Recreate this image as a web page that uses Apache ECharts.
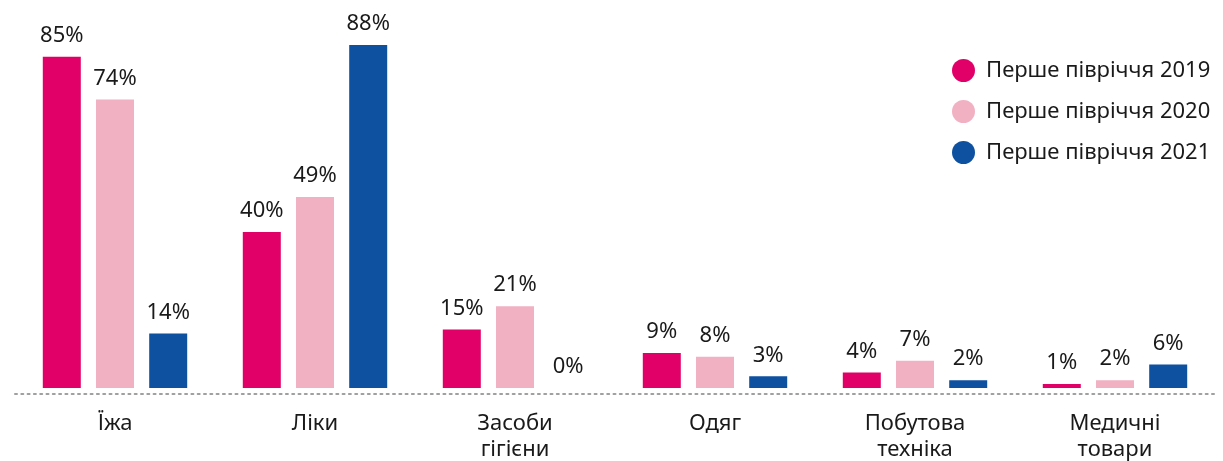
<!DOCTYPE html>
<html>
<head>
<meta charset="utf-8">
<script src="https://cdn.jsdelivr.net/npm/echarts@6/dist/echarts.min.js"></script>
<style>
  html, body { margin: 0; padding: 0; background: #fff; }
  #chart { width: 1223px; height: 461px; }
</style>
</head>
<body>
<div id="chart"></div>
<script>
// категорії та значення (%)
const categories = ["Їжа", "Ліки", "Засоби\nгігієни", "Одяг", "Побутова\nтехніка", "Медичні\nтовари"]
const seriesNames = ["Перше півріччя 2019", "Перше півріччя 2020", "Перше півріччя 2021"]
const values2019 = [85, 40, 15, 9, 4, 1]
const values2020 = [74, 49, 21, 8, 7, 2]
const values2021 = [14, 88, 0, 3, 2, 6]
const colors = ["#e10068", "#f2b0c3", "#0d51a0"]

const fontFamily = "'Noto Sans', 'Open Sans', sans-serif"

function makeSeries(name, data, color) {
    return {
        name,
        type: "bar",
        data,
        barWidth: 38,
        barGap: "40%",
        itemStyle: { color },
        label: {
            show: true,
            position: "top",
            distance: 10,
            formatter: "{c}%",
            fontSize: 22,
            fontFamily,
            color: "#1a1a1a",
        },
    }
}

const chart = echarts.init(document.getElementById("chart"))
chart.setOption({
    animation: false,
    grid: {
        left: 15,
        right: 8,
        top: 45,
        bottom: 73,
        containLabel: false,
        outerBoundsMode: "none",
    },
    legend: {
        orient: "vertical",
        left: 947,
        top: 54,
        icon: "circle",
        itemWidth: 23,
        itemHeight: 23,
        itemGap: 18,
        data: seriesNames,
        textStyle: {
            fontSize: 22,
            fontFamily,
            color: "#1a1a1a",
            padding: [0, 0, 0, 6],
        },
    },
    xAxis: {
        type: "category",
        data: categories,
        offset: 6,
        axisTick: { show: false },
        axisLine: {
            show: true,
            onZero: false,
            lineStyle: { color: "#a0a0a0", type: [2, 4.3], width: 2 },
        },
        axisLabel: {
            margin: 17,
            fontSize: 22,
            lineHeight: 26,
            fontFamily,
            color: "#1a1a1a",
        },
    },
    yAxis: {
        type: "value",
        min: 0,
        max: 88,
        show: false,
        splitLine: { show: false },
    },
    series: [
        makeSeries(seriesNames[0], values2019, colors[0]),
        makeSeries(seriesNames[1], values2020, colors[1]),
        makeSeries(seriesNames[2], values2021, colors[2]),
    ],
})
</script>
</body>
</html>
